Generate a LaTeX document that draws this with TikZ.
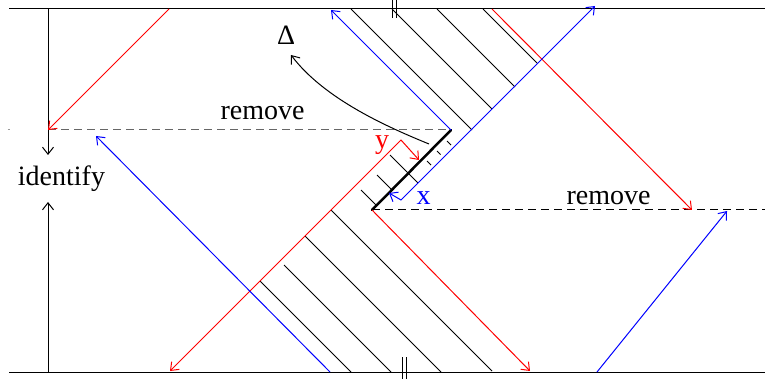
\documentclass[tikz,border=0pt]{standalone}
\usepackage{fontspec}
\setmainfont{Liberation Serif}
\usetikzlibrary{arrows.meta}
\begin{document}
\begin{tikzpicture}[x=1pt,y=-1pt,
  ln/.style={line width=1pt},
  tip/.style={-{Straight Barb[length=7pt,width=11pt,line width=1pt]}},
  bothtip/.style={{Straight Barb[length=7pt,width=11pt,line width=1pt]}-{Straight Barb[length=7pt,width=11pt,line width=1pt]}},
  lbl/.style={font=\fontsize{28}{32}\selectfont, inner sep=0pt, anchor=base},
  dsh/.style={line width=1pt, dash pattern=on 8pt off 5pt},
  thickline/.style={line width=2.5pt, line cap=round}
]
\useasboundingbox (0,0) rectangle (765,379);
% key points
\coordinate (TL) at (9,9);     \coordinate (TR) at (765,9);
\coordinate (BL) at (9,372);   \coordinate (BR) at (765,372);
\coordinate (A) at (451,130);  \coordinate (B) at (372,210);
\coordinate (Rc) at (401,140); \coordinate (Bc) at (401,200);
\coordinate (Ltop) at (48,9);  \coordinate (Lbot) at (48,372);
\coordinate (Lmid) at (48,130);
\coordinate (Rend) at (765,210);
% frame lines
\draw[ln] (TL) -- (TR);
\draw[ln] (BL) -- (BR);
% break marks
\draw[ln] (392,0) -- (392,18);
\draw[ln] (396,0) -- (396,18);
\draw[ln] (402,357) -- (402,379);
\draw[ln] (406,357) -- (406,379);
% identify arrows
\draw[ln,tip] (Ltop) -- (48,155);
\draw[ln,tip] (Lbot) -- (48,202);
% dashed cut lines
\draw[black!40, line width=1pt] (7.5,130) -- (9.5,130);
\draw[dsh, black!60] (Lmid) -- (A);
\draw[dsh] (B) -- (Rend);
% hatching (upper)
\draw[ln] (351,9) -- (472,130);
\draw[ln] (392,9) -- (492,109);
\draw[ln] (437,9) -- (515,87);
\draw[ln] (483,9) -- (537,63);
% hatching (lower)
\draw[ln] (260,281) -- (351,372);
\draw[ln] (284,265) -- (391,372);
\draw[ln] (305,236) -- (441,372);
\draw[ln] (331,210) -- (492,371);
% short marks at the cut
\draw[ln] (390,155) -- (418,183);
\draw[ln] (377,175) -- (391.5,189.5);
\draw[ln] (361,190) -- (376,205);
\draw[ln] (447,141) -- (451,145);
\draw[ln] (437,151) -- (440.5,154.5);
\draw[ln] (427,161) -- (431,165);
% thick cut
\draw[thickline] (B) -- (A);
% red rays
\draw[ln,red,tip] (169,9) -- (Lmid);
\draw[ln,red,tip] (492,9) -- (692,210);
\draw[ln,red,tip] (B) -- (530,371);
\draw[ln,red,bothtip] (170,371) -- (Rc) -- (419,160);
% blue rays
\draw[ln,blue,tip] (A) -- (331,10);
\draw[ln,blue,tip] (330,372) -- (96,136);
\draw[ln,blue,tip] (597,372) -- (727,211);
\draw[ln,blue,bothtip] (595,6) -- (Bc) -- (389,193);
% labels
\node[lbl] (rem1) at (262.5,120) {remove};
\node[lbl] (rem2) at (608.5,205) {remove};
\node[lbl] (idf) at (61.5,186) {identify};
\node[lbl] (delta) at (286,45) {Δ};
\node[lbl, red] (ly) at (382,149) {y};
\node[lbl, blue] (lx) at (423.5,205) {x};
% Delta arrow
\coordinate (dstart) at (429,144);
\draw[ln,tip] (dstart) .. controls (390,128) and (325,100) .. (291,55);
\end{tikzpicture}
\end{document}
